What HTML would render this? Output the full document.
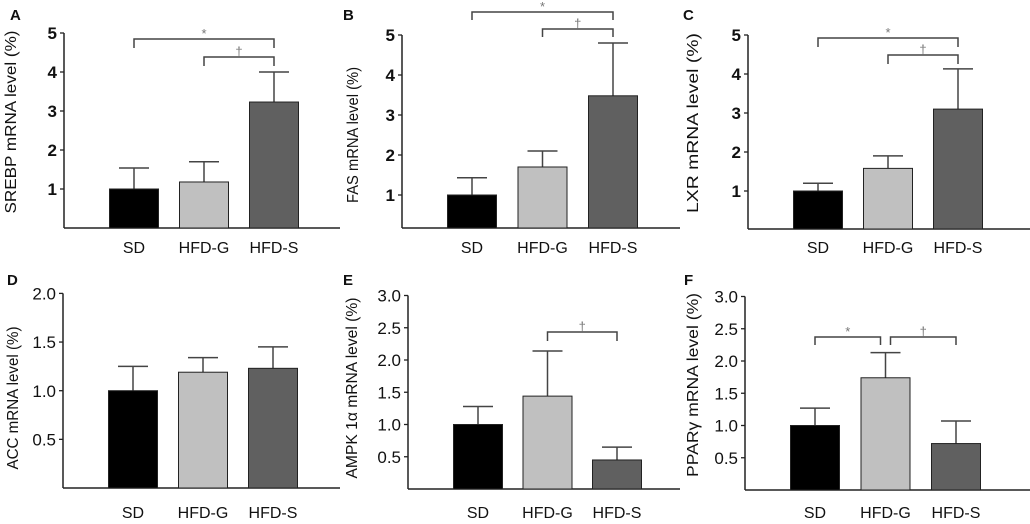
<!DOCTYPE html>
<html><head><meta charset="utf-8">
<style>
html,body{margin:0;padding:0;background:#fff;}
svg{display:block;font-family:"Liberation Sans",sans-serif;}
</style></head>
<body>
<svg id="fig" width="1030" height="524" viewBox="0 0 1030 524" xmlns="http://www.w3.org/2000/svg"></svg>
<script>
// ---- data ----
const categories = ["SD", "HFD-G", "HFD-S"];
const meansA = [1.0, 1.18, 3.23];
const errsA  = [1.54, 1.70, 4.0];
const meansB = [1.0, 1.7, 3.48];
const errsB  = [1.43, 2.1, 4.8];
const meansC = [1.0, 1.58, 3.1];
const errsC  = [1.2, 1.9, 4.13];
const meansD = [1.0, 1.19, 1.23];
const errsD  = [1.25, 1.34, 1.45];
const meansE = [1.0, 1.44, 0.45];
const errsE  = [1.28, 2.14, 0.65];
const meansF = [1.0, 1.74, 0.72];
const errsF  = [1.27, 2.13, 1.07];
const ticksTop = ["1", "2", "3", "4", "5"];
const ticksD = ["0.5", "1.0", "1.5", "2.0"];
const ticksEF = ["0.5", "1.0", "1.5", "2.0", "2.5", "3.0"];
const titles = ["SREBP mRNA level (%)", "FAS mRNA level (%)", "LXR mRNA level (%)", "ACC mRNA level (%)", "AMPK 1\u03b1 mRNA level (%)", "PPAR\u03b3 mRNA level (%)"];
const letters = ["A", "B", "C", "D", "E", "F"];
const bracketsA = [[0, 2, "*"], [1, 2, "\u2020"]];
const bracketsB = [[0, 2, "*"], [1, 2, "\u2020"]];
const bracketsC = [[0, 2, "*"], [1, 2, "\u2020"]];
const bracketsD = [];
const bracketsE = [[1, 2, "\u2020"]];
const bracketsF = [[0, 1, "*"], [1, 2, "\u2020"]];

// ---- layout ----
const colors = ["#000000", "#c0c0c0", "#606060"];
const panels = [
  {means: meansA, errs: errsA, ticks: ticksTop, br: bracketsA, ax: 64, base: 228, zero: 228, unit: 39, xEnd: 340, step: 70, lab: 248, tfs: 17, tbold: true, title: [11, 122, 183], letter: [10, 20], bry: [39, 57], brd: 9, gap: [0, 0]},
  {means: meansB, errs: errsB, ticks: ticksTop, br: bracketsB, ax: 402, base: 228, zero: 235, unit: 40, xEnd: 680, step: 70.5, lab: 248, tfs: 17, tbold: true, title: [353, 135, 136], letter: [343, 20], bry: [12, 29], brd: 8, gap: [0, 0]},
  {means: meansC, errs: errsC, ticks: ticksTop, br: bracketsC, ax: 748, base: 229, zero: 230, unit: 39, xEnd: 1030, step: 70, lab: 248, tfs: 17, tbold: true, title: [693, 123, 180], letter: [683, 20], bry: [38, 55], brd: 9, gap: [0, 0]},
  {means: meansD, errs: errsD, ticks: ticksD, br: bracketsD, ax: 63, base: 488, zero: 488, unit: 97.3, xEnd: 340, step: 70, lab: 513, tfs: 17, tbold: false, title: [13, 398, 143], letter: [7, 285], bry: [], brd: 8, gap: [0, 0]},
  {means: meansE, errs: errsE, ticks: ticksEF, br: bracketsE, ax: 408, base: 489, zero: 489, unit: 64.5, xEnd: 680, step: 69.5, lab: 513, tfs: 17, tbold: false, title: [352, 388, 181], letter: [343, 285], bry: [332], brd: 9, gap: [0, 0]},
  {means: meansF, errs: errsF, ticks: ticksEF, br: bracketsF, ax: 745, base: 490, zero: 490, unit: 64.5, xEnd: 1030, step: 70.5, lab: 513, tfs: 17, tbold: false, title: [693, 385, 184], letter: [684, 285], bry: [337, 337], brd: 8, gap: [1, 5]}
];

const NS = "http://www.w3.org/2000/svg";
const svg = document.getElementById("fig");
function mk(tag, attrs, parent) {
  const e = document.createElementNS(NS, tag);
  for (const k in attrs) e.setAttribute(k, attrs[k]);
  (parent || svg).appendChild(e);
  return e;
}

panels.forEach((p, pi) => {
  const g = mk("g", {});
  
  
  const y = v => p.zero - v * p.unit;
  const xc = i => p.ax + 70 + i * p.step;

  const L = mk("text", {x: p.letter[0], y: p.letter[1], "font-size": 15, "font-weight": "bold", fill: "#111"}, g);
  L.textContent = letters[pi];
  
  

  const ya = mk("line", {x1: p.ax, y1: y(parseFloat(p.ticks[p.ticks.length - 1])), x2: p.ax, y2: p.base, stroke: "#222", "stroke-width": 1.5}, g);
  
  
  const xa = mk("line", {x1: p.ax, y1: p.base, x2: p.xEnd, y2: p.base, stroke: "#222", "stroke-width": 1.5}, g);
  
  

  p.ticks.forEach(t => {
    const ty = y(parseFloat(t));
    const tm = mk("line", {x1: p.ax - 4, y1: ty, x2: p.ax, y2: ty, stroke: "#222", "stroke-width": 1.3}, g);
    
    
    const tl = mk("text", {x: p.ax - 7, y: ty + p.tfs * 0.36, "font-size": p.tfs, "font-weight": p.tbold ? "bold" : "normal", "text-anchor": "end", fill: "#111"}, g);
    tl.textContent = t;
    
    
  });

  const tt = mk("text", {x: 0, y: 0, "font-size": 16, "text-anchor": "middle", fill: "#111", textLength: p.title[2], lengthAdjust: "spacingAndGlyphs",
    transform: `translate(${p.title[0] + 5},${p.title[1]}) rotate(-90)`}, g);
  tt.textContent = titles[pi];
  
  

  p.means.forEach((m, i) => {
    const cx = xc(i);
    const eb = mk("line", {x1: cx, y1: y(p.errs[i]), x2: cx, y2: y(m), stroke: "#444", "stroke-width": 1.5}, g);
    
    
    const cap = mk("line", {x1: cx - 15, y1: y(p.errs[i]), x2: cx + 15, y2: y(p.errs[i]), stroke: "#444", "stroke-width": 1.5}, g);
    
    
    const b = mk("rect", {x: cx - 24.5, y: y(m), width: 49, height: p.base - y(m), fill: colors[i], stroke: "#222", "stroke-width": 1}, g);
    
    
    const xl = mk("text", {x: cx, y: p.lab + 5, "font-size": 16, "text-anchor": "middle", fill: "#111"}, g);
    xl.textContent = categories[i];
    
    
  });

  p.br.forEach((br, bi) => {
    const by = p.bry[bi];
    const x1 = xc(br[0]) + (bi === p.gap[0] ? p.gap[1] : 0);
    const x2 = xc(br[1]) - (bi === 0 && p.gap[1] ? p.gap[1] : 0);
    const pl = mk("polyline", {points: `${x1},${by + p.brd} ${x1},${by} ${x2},${by} ${x2},${by + p.brd}`, fill: "none", stroke: "#444", "stroke-width": 1.5}, g);
    
    
    const s = mk("text", {x: (x1 + x2) / 2, y: by - 1, "font-size": 13, "text-anchor": "middle", fill: "#777"}, g);
    s.textContent = br[2];
    
    
  });
});
</script>
</body></html>
